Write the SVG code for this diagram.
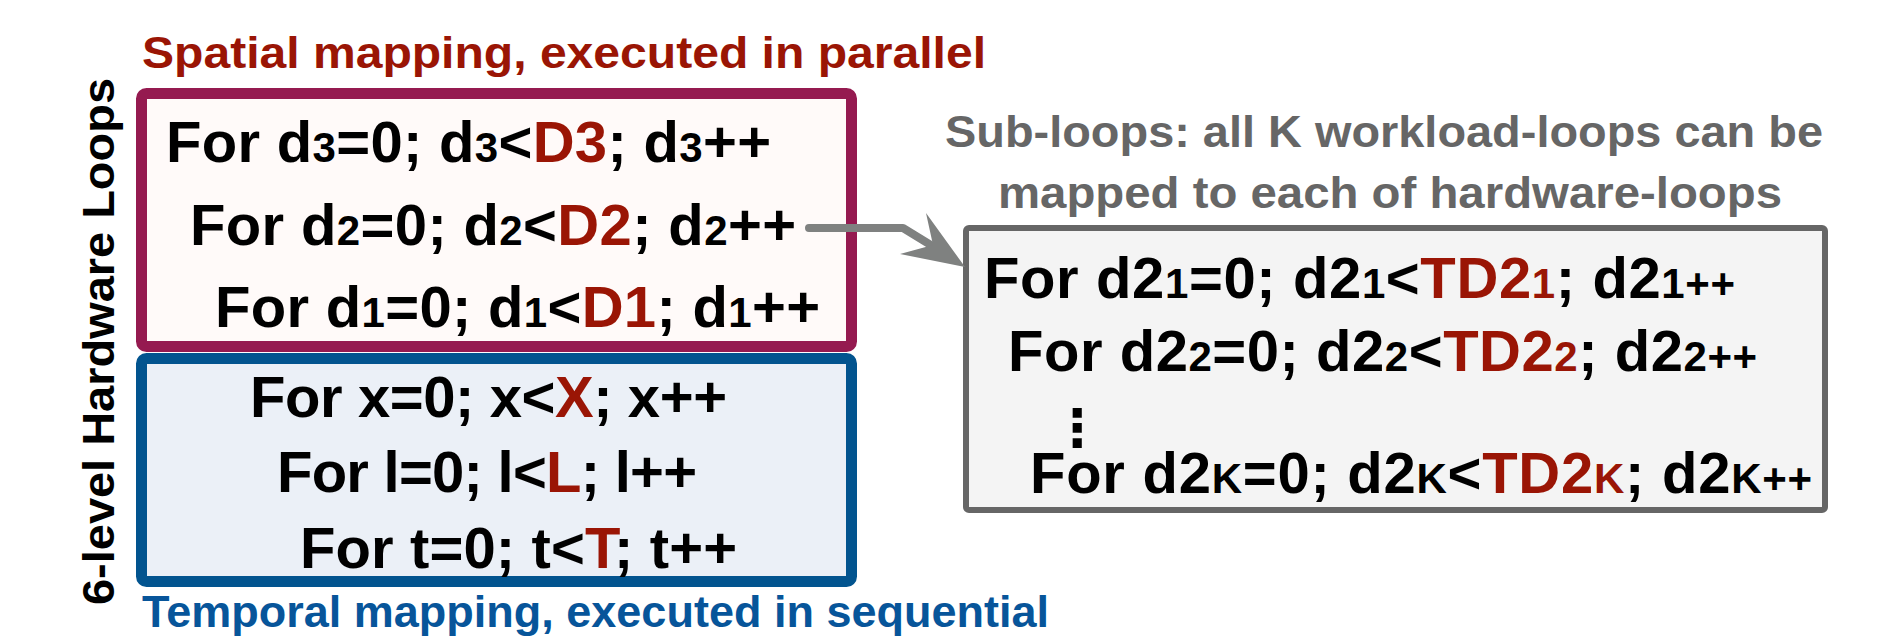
<svg xmlns="http://www.w3.org/2000/svg" width="1890" height="640" viewBox="0 0 1890 640">
<style>
  text{font-family:"Liberation Sans",Arial,Helvetica,sans-serif;font-weight:bold}
  .code{font-size:58px;fill:#000}
  .s{font-size:42px}
  .r{fill:#9A1505}
  .title{font-size:44px}
  .sp{fill:#9A1505}
  .tm{fill:#07559A}
  .gr{fill:#666666}
  .side{font-size:45px;fill:#000}
  .dots{font-family:"DejaVu Sans",sans-serif;font-size:52px;fill:#000}
  .box{stroke-linejoin:round}
</style>
<defs/>
<g id="side-label">
  <text class="side" transform="translate(114,605) rotate(-90)" textLength="527" lengthAdjust="spacingAndGlyphs">6-level Hardware Loops</text>
</g>
<g id="spatial-title">
  <text class="title sp" x="142" y="68" textLength="844" lengthAdjust="spacingAndGlyphs">Spatial mapping, executed in parallel</text>
</g>
<g id="spatial-box">
  <rect class="box" x="141.5" y="93.5" width="710" height="253" rx="5" fill="#FFFAF9" stroke="#951A50" stroke-width="11"/>
  <text class="code" x="166" y="162" textLength="605">For d<tspan class="s">3</tspan>=0; d<tspan class="s">3</tspan>&lt;<tspan class="r">D3</tspan>; d<tspan class="s">3</tspan>++</text>
  <text class="code" x="190" y="245" textLength="606">For d<tspan class="s">2</tspan>=0; d<tspan class="s">2</tspan>&lt;<tspan class="r">D2</tspan>; d<tspan class="s">2</tspan>++</text>
  <text class="code" x="215" y="327" textLength="605">For d<tspan class="s">1</tspan>=0; d<tspan class="s">1</tspan>&lt;<tspan class="r">D1</tspan>; d<tspan class="s">1</tspan>++</text>
</g>
<g id="temporal-box">
  <rect class="box" x="141.5" y="358.5" width="710" height="223" rx="5" fill="#EBF0F7" stroke="#02548F" stroke-width="11"/>
  <text class="code" x="250" y="417" textLength="477">For x=0; x&lt;<tspan class="r">X</tspan>; x++</text>
  <text class="code" x="277" y="492" textLength="420">For l=0; l&lt;<tspan class="r">L</tspan>; l++</text>
  <text class="code" x="300" y="568" textLength="437">For t=0; t&lt;<tspan class="r">T</tspan>; t++</text>
</g>
<g id="temporal-title">
  <text class="title tm" x="142" y="627" textLength="907" lengthAdjust="spacingAndGlyphs">Temporal mapping, executed in sequential</text>
</g>
<g id="subloops-note">
  <text class="title gr" x="1384" y="147" text-anchor="middle" textLength="878" lengthAdjust="spacingAndGlyphs">Sub-loops: all K workload-loops can be</text>
  <text class="title gr" x="1390" y="208" text-anchor="middle" textLength="784" lengthAdjust="spacingAndGlyphs">mapped to each of hardware-loops</text>
</g>
<g id="subloops-box">
  <rect class="box" x="966" y="228" width="859" height="282" rx="3" fill="#F4F4F4" stroke="#666666" stroke-width="6"/>
  <text class="code" x="984" y="298" textLength="751">For d2<tspan class="s">1</tspan>=0; d2<tspan class="s">1</tspan>&lt;<tspan class="r">TD2<tspan class="s">1</tspan></tspan>; d2<tspan class="s">1++</tspan></text>
  <text class="code" x="1008" y="371" textLength="749">For d2<tspan class="s">2</tspan>=0; d2<tspan class="s">2</tspan>&lt;<tspan class="r">TD2<tspan class="s">2</tspan></tspan>; d2<tspan class="s">2++</tspan></text>
  <text class="dots" x="1077" y="446" text-anchor="middle">⋮</text>
  <text class="code" x="1030" y="493" textLength="782">For d2<tspan class="s">K</tspan>=0; d2<tspan class="s">K</tspan>&lt;<tspan class="r">TD2<tspan class="s">K</tspan></tspan>; d2<tspan class="s">K++</tspan></text>
</g>
<g id="connectors">
  <path d="M809,228 H903 L934,247" fill="none" stroke="#7F8180" stroke-width="8" stroke-linecap="round" stroke-linejoin="round"/>
  <polygon points="965,267 926,213 933,245 900,254" fill="#7F8180"/>
</g>
</svg>
